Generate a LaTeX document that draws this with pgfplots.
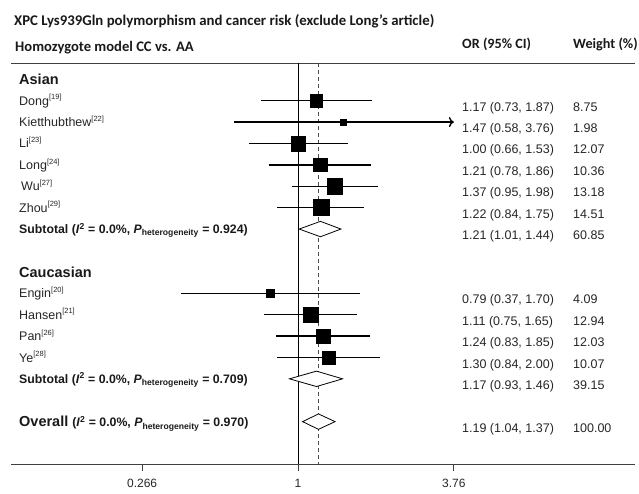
\documentclass[border=0pt]{standalone}
\usepackage{fontspec}
\setmainfont{Liberation Sans}
\newfontfamily\calb{Carlito}
\usepackage{pgfplots}
\pgfplotsset{compat=1.18}
\usepackage{pgfplotstable}
\usetikzlibrary{arrows.meta}

\pgfplotstableread{
y or lo hi w
-1 1.17 0.73 1.87 8.75
-2 1.47 0.58 3.76 1.98
-3 1.00 0.66 1.53 12.07
-4 1.21 0.78 1.86 10.36
-5 1.37 0.95 1.98 13.18
-6 1.22 0.84 1.75 14.51
-10 0.79 0.37 1.70 4.09
-11 1.11 0.75 1.65 12.94
-12 1.24 0.83 1.85 12.03
-13 1.30 0.84 2.00 10.07
}\studies

\newcommand{\sref}[1]{\raisebox{0.42em}{\fontsize{7.5}{8}\selectfont[#1]}}
\newcommand{\rowfont}{\fontsize{12.5}{14}\selectfont}
\newcommand{\lab}[3][19]{\node[anchor=base west,inner sep=0pt,text=black!85] at (#1,{413.7-21.4*#2-4.5}) {\rowfont #3};}
\newcommand{\head}[2]{\node[anchor=base west,inner sep=0pt,text=black!90] at (19,{413.7-21.4*#1-5.2}) {\fontsize{14.5}{16}\selectfont\bfseries #2};}
\newcommand{\rcol}[3]{\node[anchor=base west,inner sep=0pt,text=black!85] at (462,{413.7-21.4*#1-10.5}) {\rowfont #2};
  \node[anchor=base west,inner sep=0pt,text=black!85] at (573,{413.7-21.4*#1-10.5}) {\rowfont #3};}
\newcommand{\het}[1]{(\textit{I}\textsuperscript{2} = 0.0\%, \textit{P}\textsubscript{heterogeneity} = #1)}

\begin{document}
\begin{tikzpicture}
\useasboundingbox (0,0) rectangle (639pt,493pt);
\begin{axis}[
  at={(11pt,29pt)}, anchor=south west,
  scale only axis, width=624pt, height=401pt,
  xmode=log, xmin=0.0873, xmax=17.52,
  ymin=-17.98, ymax=0.76,
  hide y axis,
  axis x line=bottom,
  x axis line style={-, draw=black!75, line width=0.9pt},
  xtick={0.266,1,3.76}, xticklabels={0.266,1,3.76},
  minor xtick={},
  xtick style={draw=black!75, line width=0.8pt},
  major tick length=7pt, tick align=outside,
  xticklabel style={font=\fontsize{12}{14}\selectfont, text=black!85, yshift=-5pt},
  clip=false,
  ci/.style={black, line width=1.4pt, mark=none},
  dia/.style={black, line width=0.8pt, fill=white, mark=none},
]
\draw[black!75, line width=0.9pt] (rel axis cs:0,1) -- (rel axis cs:1,1);
\addplot[black, line width=0.7pt, mark=none] coordinates {(1,0.76) (1,-17.98)};
\addplot[black!70, line width=0.6pt, mark=none, dash pattern=on 4pt off 3pt] coordinates {(1.19,0.76) (1.19,-17.98)};
% confidence intervals
\addplot[ci] coordinates {(0.73,-1) (1.87,-1)};
\addplot[ci, -{To[length=5pt,width=10pt]}] coordinates {(0.58,-2) (3.76,-2)};
\addplot[ci] coordinates {(0.66,-3) (1.53,-3)};
\addplot[ci] coordinates {(0.78,-4) (1.86,-4)};
\addplot[ci] coordinates {(0.95,-5) (1.98,-5)};
\addplot[ci] coordinates {(0.84,-6) (1.75,-6)};
\addplot[ci] coordinates {(0.37,-10) (1.70,-10)};
\addplot[ci] coordinates {(0.75,-11) (1.65,-11)};
\addplot[ci] coordinates {(0.83,-12) (1.85,-12)};
\addplot[ci] coordinates {(0.84,-13) (2.00,-13)};
% weighted squares
\addplot[only marks, mark=square*, scatter,
  scatter/use mapped color={draw=black, fill=black},
  visualization depends on={2.1*sqrt(\thisrow{w}) \as \msize},
  scatter/@pre marker code/.append style={/tikz/mark size=\msize}]
  table[x=or, y=y] {\studies};
% diamonds
\addplot[dia] coordinates {(1.01,-7) (1.21,-6.64) (1.44,-7) (1.21,-7.36)} -- cycle;
\addplot[dia] coordinates {(0.93,-14) (1.17,-13.64) (1.46,-14) (1.17,-14.36)} -- cycle;
\addplot[dia] coordinates {(1.04,-16) (1.19,-15.64) (1.37,-16) (1.19,-16.36)} -- cycle;
\end{axis}

\begin{scope}[x=1pt,y=1pt]
\node[anchor=base west,inner sep=0pt,text=black!90] at (14,467) {\calb\fontsize{14.8}{16}\selectfont\bfseries XPC Lys939Gln polymorphism and cancer risk (exclude Long’s article)};
\node[anchor=base west,inner sep=0pt,text=black!90] at (15,441.5) {\calb\fontsize{14.6}{16}\selectfont\bfseries Homozygote model CC vs. AA};
\node[anchor=base west,inner sep=0pt,text=black!90] at (462,444) {\calb\fontsize{14.2}{16}\selectfont\bfseries OR (95\% CI)};
\node[anchor=base west,inner sep=0pt,text=black!90] at (573,444) {\calb\fontsize{14.2}{16}\selectfont\bfseries Weight (\%)};

\head{0}{Asian}
\lab{1}{Dong\sref{19}}
\lab{2}{Kietthubthew\sref{22}}
\lab{3}{Li\sref{23}}
\lab{4}{Long\sref{24}}
\lab[21]{5}{Wu\sref{27}}
\lab{6}{Zhou\sref{29}}
\node[anchor=base west,inner sep=0pt,text=black!90] at (19,{413.7-21.4*7-4.4}) {\fontsize{12.3}{14}\selectfont\bfseries Subtotal \het{0.924}};
\head{9}{Caucasian}
\lab{10}{Engin\sref{20}}
\lab{11}{Hansen\sref{21}}
\lab{12}{Pan\sref{26}}
\lab{13}{Ye\sref{28}}
\node[anchor=base west,inner sep=0pt,text=black!90] at (19,{413.7-21.4*14-4.4}) {\fontsize{12.3}{14}\selectfont\bfseries Subtotal \het{0.709}};
\node[anchor=base west,inner sep=0pt,text=black!90] at (19,{413.7-21.4*16-5.2}) {\fontsize{14.5}{16}\selectfont\bfseries Overall {\fontsize{12.3}{14}\selectfont\het{0.970}}};

\rcol{1}{1.17 (0.73, 1.87)}{8.75}
\rcol{2}{1.47 (0.58, 3.76)}{1.98}
\rcol{3}{1.00 (0.66, 1.53)}{12.07}
\rcol{4}{1.21 (0.78, 1.86)}{10.36}
\rcol{5}{1.37 (0.95, 1.98)}{13.18}
\rcol{6}{1.22 (0.84, 1.75)}{14.51}
\rcol{7}{1.21 (1.01, 1.44)}{60.85}
\rcol{10}{0.79 (0.37, 1.70)}{4.09}
\rcol{11}{1.11 (0.75, 1.65)}{12.94}
\rcol{12}{1.24 (0.83, 1.85)}{12.03}
\rcol{13}{1.30 (0.84, 2.00)}{10.07}
\rcol{14}{1.17 (0.93, 1.46)}{39.15}
\rcol{16}{1.19 (1.04, 1.37)}{100.00}
\end{scope}
\end{tikzpicture}
\end{document}
